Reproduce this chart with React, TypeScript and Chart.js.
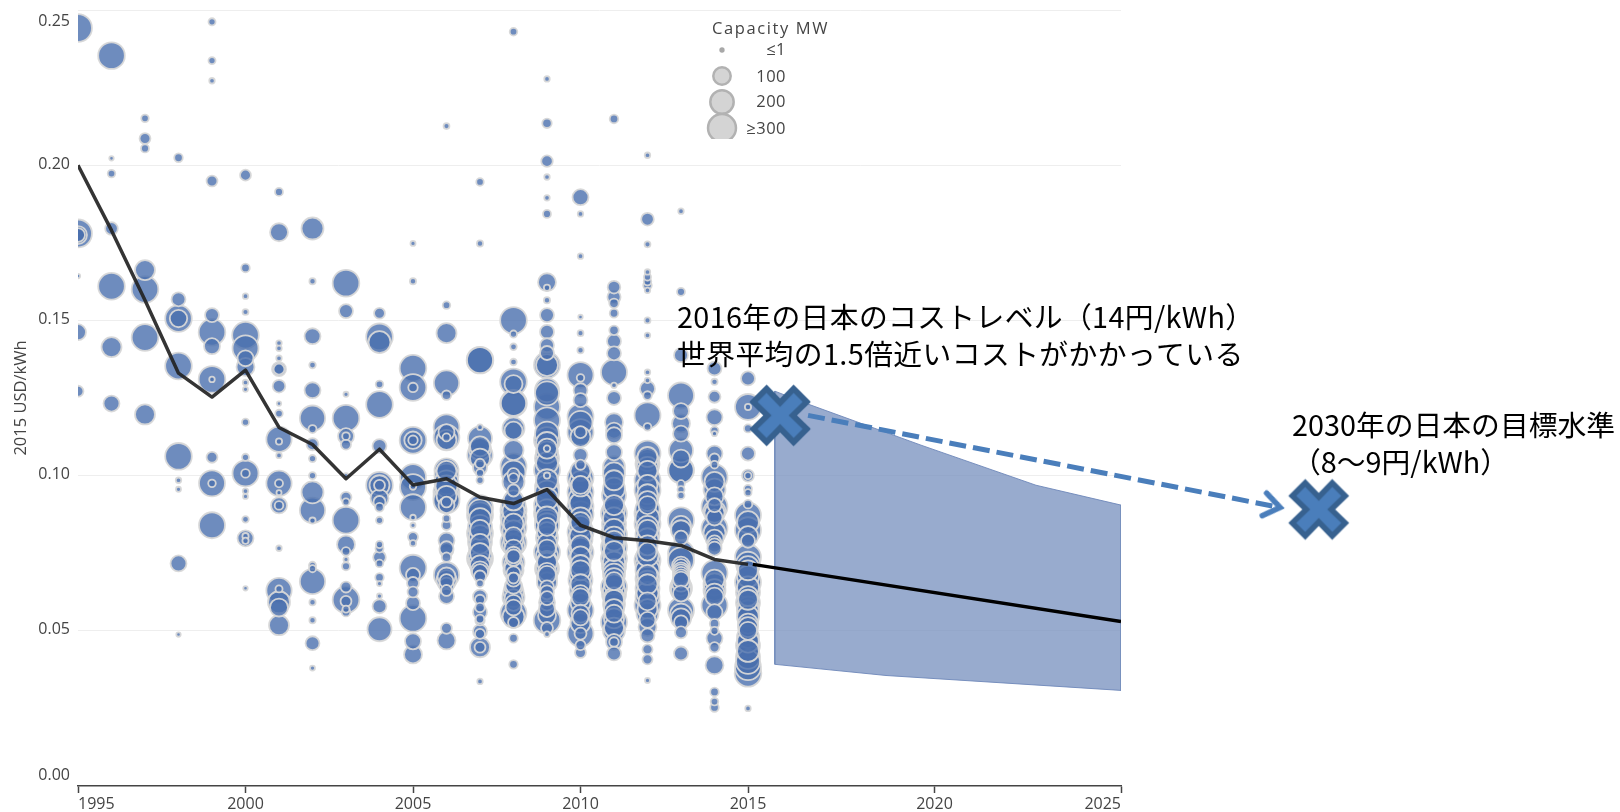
import React, { useEffect, useRef } from "react";
import { Chart, registerables, LinearScale, BubbleController } from "chart.js";

const b1995 = [[0.2442,300],[0.178,300],[0.1775,108],[0.1775,58],[0.1462,81],[0.1272,30],[0.1643,1]];
const b1996 = [[0.2353,270],[0.2022,1],[0.1973,10],[0.1796,45],[0.161,270],[0.1414,139],[0.1232,81]];
const b1997 = [[0.2151,10],[0.2086,30],[0.2054,12],[0.1662,139],[0.16,270],[0.1445,270],[0.1197,139]];
const b1998 = [[0.2024,15],[0.1568,58],[0.1506,270],[0.1506,100],[0.1353,270],[0.1062,270],[0.0985,3],[0.0956,2],[0.0717,81],[0.0488,1]];
const b1999 = [[0.2462,8],[0.2337,8],[0.2272,3],[0.1949,30],[0.1517,58],[0.1462,270],[0.1417,81],[0.131,270],[0.131,3],[0.1059,30],[0.0975,255],[0.0975,10],[0.084,255]];
const b2000 = [[0.1968,30],[0.1669,15],[0.1578,3],[0.1527,4],[0.1452,270],[0.141,255],[0.1378,81],[0.135,108],[0.13,3],[0.1278,2],[0.1172,8],[0.1059,8],[0.1007,255],[0.1007,15],[0.095,3],[0.0933,2],[0.0859,6],[0.0798,81],[0.0805,5],[0.079,5],[0.0637,1]];
const b2001 = [[0.1914,12],[0.1784,108],[0.1427,3],[0.141,3],[0.1378,3],[0.1343,58],[0.1343,30],[0.1288,45],[0.12,10],[0.1232,1],[0.1117,240],[0.111,5],[0.1065,3],[0.0975,240],[0.0975,12],[0.0945,2],[0.0904,81],[0.0904,15],[0.0766,3],[0.063,240],[0.0635,8],[0.0592,174],[0.0575,108],[0.0518,139]];
const b2002 = [[0.1796,174],[0.1626,5],[0.1449,81],[0.1356,6],[0.1275,81],[0.1185,240],[0.115,12],[0.1101,39],[0.1055,8],[0.1,8],[0.0946,174],[0.0888,240],[0.0855,5],[0.0711,8],[0.0659,240],[0.07,8],[0.0592,5],[0.0534,5],[0.046,58],[0.038,2]];
const b2003 = [[0.162,270],[0.153,58],[0.1262,2],[0.1185,270],[0.1127,81],[0.1127,10],[0.11,24],[0.1,2],[0.093,30],[0.0856,270],[0.0915,8],[0.0778,108],[0.0756,15],[0.073,2],[0.0708,12],[0.0641,30],[0.06,270],[0.0595,30],[0.057,8],[0.056,15]];
const b2004 = [[0.1523,30],[0.1447,270],[0.143,174],[0.1294,10],[0.1229,270],[0.1095,58],[0.0969,270],[0.0969,139],[0.0969,30],[0.0927,108],[0.0915,39],[0.0898,15],[0.0856,8],[0.0778,8],[0.0765,12],[0.0737,45],[0.0717,10],[0.0672,15],[0.0652,2],[0.0612,2],[0.0579,58],[0.0505,213]];
const b2005 = [[0.1748,2],[0.1626,5],[0.1346,270],[0.1284,270],[0.1284,20],[0.1114,270],[0.1114,100],[0.1114,20],[0.0995,255],[0.0963,255],[0.0965,6],[0.0898,255],[0.0865,3],[0.084,2],[0.0802,24],[0.0782,5],[0.0702,270],[0.068,58],[0.0654,39],[0.0625,30],[0.0589,58],[0.054,270],[0.0466,81],[0.0424,108]];
const b2006 = [[0.2126,4],[0.1549,10],[0.1459,139],[0.1298,240],[0.1259,20],[0.1156,250],[0.114,81],[0.1123,250],[0.1115,139],[0.1123,12],[0.1017,213],[0.1015,139],[0.1,213],[0.0978,213],[0.0965,174],[0.0946,255],[0.0935,139],[0.093,255],[0.092,255],[0.0915,30],[0.0905,81],[0.0862,10],[0.084,20],[0.0791,81],[0.076,58],[0.0766,58],[0.0737,20],[0.068,240],[0.0675,108],[0.0663,139],[0.066,58],[0.0647,70],[0.063,30],[0.0611,70],[0.0508,30],[0.0469,108]];
const b2007 = [[0.1946,10],[0.1748,5],[0.1372,270],[0.1372,255],[0.1156,3],[0.112,213],[0.1094,139],[0.1085,174],[0.1066,240],[0.1055,139],[0.1039,20],[0.1025,58],[0.1008,12],[0.0985,8],[0.0895,255],[0.0885,213],[0.0872,255],[0.086,174],[0.0835,213],[0.0825,139],[0.0814,255],[0.0805,174],[0.0786,213],[0.078,139],[0.0765,174],[0.075,139],[0.074,213],[0.0733,255],[0.072,174],[0.0711,139],[0.0695,108],[0.0689,81],[0.0675,39],[0.0653,10],[0.061,58],[0.06,24],[0.0575,20],[0.056,58],[0.0538,15],[0.0533,20],[0.0498,58],[0.049,24],[0.0447,139],[0.0447,30],[0.0337,3]];
const b2008 = [[0.243,10],[0.15,270],[0.1456,8],[0.1415,6],[0.1366,6],[0.1302,270],[0.1295,108],[0.1233,270],[0.1233,240],[0.1152,174],[0.1145,108],[0.1082,139],[0.103,255],[0.101,213],[0.1005,39],[0.0992,24],[0.098,174],[0.0952,39],[0.092,139],[0.0905,213],[0.0888,255],[0.0885,174],[0.0866,255],[0.0855,213],[0.0845,139],[0.0833,255],[0.082,174],[0.0805,108],[0.0795,139],[0.0785,255],[0.0775,174],[0.0765,108],[0.0745,81],[0.074,58],[0.0735,81],[0.072,174],[0.0715,108],[0.07,108],[0.0695,139],[0.0685,58],[0.067,30],[0.0665,58],[0.0645,81],[0.0641,108],[0.0625,139],[0.0608,174],[0.0605,108],[0.059,81],[0.0575,81],[0.0557,255],[0.0545,174],[0.0527,30],[0.0476,15],[0.0392,15]];
const b2009 = [[0.2278,3],[0.2135,20],[0.2013,35],[0.1962,3],[0.1895,3],[0.1843,12],[0.1623,108],[0.1605,5],[0.1565,5],[0.1517,58],[0.1463,58],[0.142,58],[0.1395,58],[0.1356,255],[0.1356,174],[0.1275,213],[0.1265,213],[0.1222,255],[0.1178,255],[0.1135,213],[0.1114,255],[0.1105,174],[0.1087,139],[0.1087,6],[0.1075,174],[0.1055,213],[0.104,174],[0.1018,255],[0.1,5],[0.0985,174],[0.0963,213],[0.0945,213],[0.0925,174],[0.0904,255],[0.0885,213],[0.0878,255],[0.0865,174],[0.0852,213],[0.084,213],[0.0835,108],[0.0818,139],[0.08,174],[0.078,139],[0.0765,108],[0.0753,255],[0.074,174],[0.0725,139],[0.072,139],[0.0705,174],[0.07,213],[0.069,108],[0.068,108],[0.067,139],[0.0656,139],[0.064,58],[0.0624,58],[0.0605,58],[0.0591,81],[0.057,81],[0.055,108],[0.0534,270],[0.0509,39],[0.0489,3]];
const b2010 = [[0.1897,81],[0.1843,3],[0.1707,3],[0.1511,1],[0.1459,4],[0.1404,5],[0.1324,255],[0.1315,10],[0.1275,58],[0.1243,58],[0.119,255],[0.117,213],[0.114,255],[0.1125,139],[0.114,39],[0.1066,58],[0.1035,24],[0.1015,139],[0.0992,255],[0.098,174],[0.0965,139],[0.0947,255],[0.097,108],[0.0925,213],[0.091,174],[0.09,255],[0.0875,255],[0.0862,174],[0.085,139],[0.0835,174],[0.0818,255],[0.0805,174],[0.0796,213],[0.0775,139],[0.0765,174],[0.0753,255],[0.074,139],[0.0712,139],[0.0735,174],[0.0695,139],[0.068,174],[0.0663,213],[0.065,139],[0.063,174],[0.0618,108],[0.0608,108],[0.059,139],[0.0566,255],[0.0555,108],[0.0543,81],[0.0525,139],[0.0491,255],[0.0491,39],[0.0454,24],[0.043,30]];
const b2011 = [[0.2149,15],[0.1607,45],[0.1575,50],[0.1555,20],[0.1523,15],[0.1468,20],[0.1433,58],[0.1394,58],[0.1333,255],[0.1291,3],[0.125,58],[0.1172,108],[0.1145,81],[0.113,81],[0.1075,81],[0.1027,174],[0.1007,174],[0.0985,139],[0.0958,174],[0.0937,213],[0.0905,139],[0.0893,174],[0.0878,255],[0.0862,174],[0.0844,213],[0.0825,174],[0.081,255],[0.08,174],[0.079,139],[0.078,174],[0.0769,255],[0.0757,139],[0.0745,174],[0.0733,255],[0.072,174],[0.0708,213],[0.0695,174],[0.0681,174],[0.067,139],[0.066,108],[0.065,139],[0.064,255],[0.0628,174],[0.0618,213],[0.0608,139],[0.06,139],[0.0586,174],[0.057,139],[0.0555,108],[0.054,139],[0.0528,255],[0.051,139],[0.05,174],[0.0464,81],[0.0464,20],[0.0427,58]];
const b2012 = [[0.2032,3],[0.1826,45],[0.1745,4],[0.1656,3],[0.164,8],[0.1625,10],[0.1613,15],[0.1597,3],[0.15,4],[0.1452,3],[0.1333,3],[0.1307,3],[0.128,70],[0.1258,15],[0.1194,255],[0.1157,10],[0.1071,255],[0.106,139],[0.105,174],[0.1038,213],[0.1025,174],[0.1015,139],[0.0985,255],[0.097,139],[0.0953,255],[0.094,139],[0.093,174],[0.0918,139],[0.0905,108],[0.0892,213],[0.0878,255],[0.0862,213],[0.0845,255],[0.0835,174],[0.0825,139],[0.081,213],[0.0795,174],[0.0775,139],[0.0755,108],[0.0742,174],[0.0727,255],[0.0712,213],[0.0695,213],[0.068,139],[0.0668,213],[0.0658,174],[0.065,139],[0.0636,213],[0.0622,174],[0.0609,213],[0.0595,108],[0.0582,255],[0.057,139],[0.0555,174],[0.0535,81],[0.0512,108],[0.0485,58],[0.044,24],[0.0408,24],[0.034,2]];
const b2013 = [[0.1852,3],[0.1592,12],[0.1388,58],[0.1258,255],[0.1208,81],[0.1168,108],[0.1135,81],[0.1081,213],[0.1055,108],[0.1017,255],[0.1017,240],[0.0973,10],[0.0955,8],[0.0936,8],[0.0856,255],[0.0838,139],[0.0824,139],[0.08,58],[0.0749,255],[0.0727,255],[0.071,108],[0.0705,81],[0.0695,81],[0.0688,81],[0.068,81],[0.0672,81],[0.0665,81],[0.0655,108],[0.0645,139],[0.0637,174],[0.0628,139],[0.062,81],[0.0566,255],[0.0552,174],[0.054,139],[0.0527,58],[0.0495,39],[0.0427,58]];
const b2014 = [[0.1345,58],[0.1302,5],[0.1254,39],[0.1188,81],[0.1145,12],[0.1135,2],[0.1071,81],[0.1055,24],[0.1035,10],[0.0995,255],[0.098,139],[0.0955,174],[0.0933,108],[0.0905,58],[0.09,255],[0.0885,174],[0.088,139],[0.0865,81],[0.083,255],[0.0815,174],[0.0797,108],[0.0785,58],[0.0775,58],[0.0765,58],[0.0686,255],[0.0665,139],[0.065,174],[0.0631,174],[0.062,139],[0.061,108],[0.0582,255],[0.056,81],[0.0523,20],[0.05,12],[0.0476,81],[0.0447,24],[0.0389,108],[0.0303,15],[0.0272,10],[0.0253,15]];
const b2015 = [[0.1313,58],[0.1221,255],[0.1221,5],[0.1152,12],[0.1071,58],[0.1,39],[0.1,8],[0.0957,12],[0.0945,8],[0.0908,15],[0.0872,255],[0.085,174],[0.0824,255],[0.0805,139],[0.079,58],[0.0737,255],[0.0716,213],[0.0705,174],[0.0695,139],[0.0675,174],[0.0656,255],[0.064,174],[0.0624,213],[0.0612,139],[0.06,139],[0.059,213],[0.0575,174],[0.0563,174],[0.0545,174],[0.0523,139],[0.0512,139],[0.05,108],[0.048,174],[0.0465,174],[0.0453,213],[0.0435,174],[0.0416,213],[0.04,213],[0.0383,255],[0.0363,270],[0.025,3]];

const bubbleYears = [1995,1996,1997,1998,1999,2000,2001,2002,2003,2004,2005,2006,2007,2008,2009,2010,2011,2012,2013,2014,2015];
const bubbleRows = [b1995,b1996,b1997,b1998,b1999,b2000,b2001,b2002,b2003,b2004,b2005,b2006,b2007,b2008,b2009,b2010,b2011,b2012,b2013,b2014,b2015];

const historyYears = [1995,1996,1997,1998,1999,2000,2001,2002,2003,2004,2005,2006,2007,2008,2009,2010,2011,2012,2013,2014,2015];
const historyValues = [0.2,0.179,0.1565,0.133,0.1253,0.134,0.1155,0.11,0.099,0.1085,0.097,0.099,0.093,0.091,0.0955,0.084,0.08,0.079,0.0775,0.073,0.0714];
const projectionYears = [2015.13,2025];
const projectionValues = [0.0714,0.053];
const bandYears = [2015.72,2016.55,2019.64,2022.72,2025];
const bandUpper = [0.1272,0.1233,0.1098,0.0969,0.0905];
const bandLowerYears = [2015.72,2018.7,2025];
const bandLower = [0.0392,0.0356,0.0308];
const targetYears = [2015.86,2030.3];
const targetValues = [0.1194,0.0891];
const arrowYears = [2016.61,2029.24];
const arrowValues = [0.1194,0.0898];
const yTicks = [0,0.05,0.1,0.15,0.2,0.25];

const costLabel2016 = ["2016年の日本のコストレベル（14円/kWh）","世界平均の1.5倍近いコストがかかっている"];
const costLabel2030 = ["2030年の日本の目標水準","（8～9円/kWh）"];
const legendTitle = "Capacity MW";
const legendMw = [1,100,200,300];
const legendText = ["≤1","100","200","≥300"];

const radiusOf = (mw: number) => 1.5 + 0.72 * Math.sqrt(mw);
const noPadding = () => ({ left: 0, top: 0, right: 0, bottom: 0 });

const knee = 670 / 1043;
class YearBreakScale extends LinearScale {
  static id = "yearBreak";
  static defaults = LinearScale.defaults;
  getPadding() { return noPadding(); }
  getPixelForValue(value: any) {
    if (value === null || value === undefined) return NaN;
    const d = value <= 2015 ? ((value - 1995) / 20) * knee : knee + ((value - 2015) / 10) * (1 - knee);
    return this.getPixelForDecimal(d);
  }
}
class EdgeLabelScale extends LinearScale {
  static id = "edgeLabel";
  static defaults = LinearScale.defaults;
  getPadding() { return noPadding(); }
  _computeLabelItems(area: any) {
    const items = super._computeLabelItems(area);
    items.forEach((it: any, i: number) => {
      const shift = i === 0 ? -11 : i === items.length - 1 ? 11 : -1;
      it.options.translation = [it.options.translation[0], it.options.translation[1] + shift];
    });
    return items;
  }
}
Chart.register(...registerables, YearBreakScale, EdgeLabelScale);
// The big bubbles must not push the plot area down: the reference clips them at its edge.
(BubbleController.prototype as any).getMaxOverflow = () => 0;

function crossImage() {
  const c = document.createElement("canvas");
  c.width = 66; c.height = 66;
  const g = c.getContext("2d")!;
  g.translate(33, 33);
  const e = 26.5, t = 13.5, n = 12.5;
  const pts = [[-e,-t],[-t,-e],[0,-n],[t,-e],[e,-t],[n,0],[e,t],[t,e],[0,n],[-t,e],[-e,t],[-n,0]];
  g.beginPath();
  pts.forEach(([x, y], i) => (i ? g.lineTo(x, y) : g.moveTo(x, y)));
  g.closePath();
  g.fillStyle = "#4a7ebb";
  g.fill();
  g.lineWidth = 5.5;
  g.lineJoin = "miter";
  g.strokeStyle = "#37618f";
  g.stroke();
  return c;
}
function arrowImage() {
  const c = document.createElement("canvas");
  c.width = 44; c.height = 44;
  const g = c.getContext("2d")!;
  g.translate(22, 22);
  g.beginPath();
  g.moveTo(-15, -11.5);
  g.lineTo(1, 0);
  g.lineTo(-15, 11.5);
  g.strokeStyle = "#4a7ebb";
  g.lineWidth = 5.5;
  g.lineCap = "round";
  g.stroke();
  return c;
}

const notes = {
  id: "notes",
  afterDatasetsDraw(chart: any) {
    chart.data.datasets.forEach((d: any, i: number) => {
      if (d.label === "ArrowHead" || d.label === "Japan") {
        chart.getDatasetMeta(i).data.forEach((p: any) => p.draw(chart.ctx));
      }
    });
  },
  afterDraw(chart: any) {
    const g = chart.ctx;
    g.save();
    g.textBaseline = "middle";
    g.fillStyle = "#000";
    g.textAlign = "left";
    g.font = '28.8px "Noto Sans CJK JP"';
    g.letterSpacing = "0.35px";
    g.fillText(costLabel2016[0], 677, 317);
    g.letterSpacing = "0.4px";
    g.fillText(costLabel2016[1], 677, 354);
    g.letterSpacing = "0px";
    g.fillText(costLabel2030[0], 1292, 425);
    g.fillText(costLabel2030[1], 1292, 462);

    g.fillStyle = "#444";
    g.font = '16.5px "Open Sans"';
    g.letterSpacing = "1.6px";
    g.fillText(legendTitle, 712, 29);
    g.letterSpacing = "0.5px";
    const ys = [50, 77, 102, 129];
    const cy = [50, 76, 102, 128];
    g.textAlign = "right";
    legendMw.forEach((mw, i) => {
      g.fillStyle = "#444";
      g.fillText(legendText[i], 786, ys[i]);
      g.save();
      g.beginPath();
      g.rect(700, 30, 60, 109);
      g.clip();
      g.beginPath();
      g.arc(722, cy[i], radiusOf(mw) * (i === 0 ? 1.2 : 1), 0, Math.PI * 2);
      g.fillStyle = i === 0 ? "#a8a8a8" : "#d4d4d4";
      g.fill();
      if (i > 0) {
        g.strokeStyle = "#b2b2b2";
        g.lineWidth = 2.5;
        g.stroke();
      }
      g.restore();
    });
    g.restore();
  },
};

export default function App() {
  const ref = useRef<HTMLCanvasElement>(null);
  useEffect(() => {
    const points: any[] = [];
    bubbleRows.forEach((row, i) => {
      row.forEach(([v, mw]) => points.push({ x: bubbleYears[i], y: v, r: radiusOf(mw), mw }));
    });
    points.sort((a, b) => (a.x - b.x) || (b.mw - a.mw));
    const pair = (xs: number[], ys: number[]) => xs.map((x, i) => ({ x, y: ys[i] }));
    const bandStroke = "rgba(110,135,185,0.9)";
    const bandEdge = (xi: number, li: number) => [
      { x: bandYears[xi], y: bandUpper[xi] },
      { x: bandLowerYears[li], y: bandLower[li] },
    ];
    const chart = new Chart(ref.current!, {
      type: "bubble",
      data: {
        datasets: [
          { type: "bubble", label: "Projects", data: points, order: 9, clip: 0,
            backgroundColor: "rgba(74,111,174,0.8)", borderColor: "rgba(216,216,216,0.95)", borderWidth: 1.8 },
          { type: "line", label: "Upper", data: pair(bandYears, bandUpper), order: 7, borderColor: bandStroke, borderWidth: 1, pointRadius: 0, fill: false },
          { type: "line", label: "Lower", data: pair(bandLowerYears, bandLower), order: 7, borderColor: bandStroke, borderWidth: 1, pointRadius: 0,
            fill: { target: 1 }, backgroundColor: "rgba(118,143,190,0.75)" },
          { type: "line", label: "EdgeL", data: bandEdge(0, 0), order: 7, borderColor: bandStroke, borderWidth: 1, pointRadius: 0 },
          { type: "line", label: "EdgeR", data: bandEdge(bandYears.length - 1, bandLowerYears.length - 1), order: 7, borderColor: bandStroke, borderWidth: 1, pointRadius: 0 },
          { type: "line", label: "Global", data: pair(historyYears, historyValues), order: 5, borderColor: "rgba(35,35,35,0.92)", borderWidth: 3.5, pointRadius: 0, borderJoinStyle: "round" },
          { type: "line", label: "Projection", data: pair(projectionYears, projectionValues), order: 4, borderColor: "#000", borderWidth: 3.5, pointRadius: 0 },
          { type: "line", label: "Arrow", data: pair(arrowYears, arrowValues), order: 3, clip: false, borderColor: "#4a7ebb", borderWidth: 5, borderDash: [17, 7], pointRadius: 0 },
          { type: "line", label: "ArrowHead", data: [{ x: arrowYears[1], y: arrowValues[1] }], order: 2, clip: false, showLine: false,
            pointStyle: arrowImage(), pointRadius: 1, pointHoverRadius: 1, pointRotation: 11 },
          { type: "line", label: "Japan", data: pair(targetYears, targetValues), order: 1, clip: false, showLine: false,
            pointStyle: crossImage(), pointRadius: 1, pointHoverRadius: 1 },
        ],
      } as any,
      options: {
        animation: false,
        responsive: false,
        layout: { padding: { left: 0, top: 10, right: 499, bottom: 0 } },
        events: [],
        plugins: { legend: { display: false }, tooltip: { enabled: false } },
        scales: {
          x: {
            type: "yearBreak",
            min: 1995,
            max: 2025,
            afterFit: (s: any) => { s.height = 26; },
            border: { color: "#444", width: 1.5 },
            grid: { drawOnChartArea: false, drawTicks: true, tickLength: 7, tickColor: "#444", tickWidth: 1.5 },
            ticks: { stepSize: 5, autoSkip: false, maxRotation: 0, align: "inner", padding: 2, color: "#444", font: { family: "Open Sans", size: 16 }, callback: (v: any) => String(v) },
          },
          y: {
            type: "edgeLabel",
            min: 0,
            max: 0.25,
            afterFit: (s: any) => { s.width = 78; },
            afterBuildTicks: (s: any) => { s.ticks = yTicks.map((value) => ({ value })); },
            border: { display: false },
            grid: { color: (c: any) => (c.tick && c.tick.value === 0 ? "transparent" : "#eeeeee"), lineWidth: 1, drawTicks: false },
            ticks: { padding: 8, color: "#444", font: { family: "Open Sans", size: 16 }, callback: (v: any) => Number(v).toFixed(2) },
            title: { display: true, text: "2015 USD/kWh", color: "#444", font: { family: "Open Sans", size: 16.5 }, padding: { top: 11, bottom: 0 } },
          },
        },
      } as any,
      plugins: [notes],
    });
    return () => chart.destroy();
  }, []);
  return <canvas ref={ref} width={1620} height={812} style={{ position: "absolute", left: 0, top: 0, width: 1620, height: 812 }} />;
}
